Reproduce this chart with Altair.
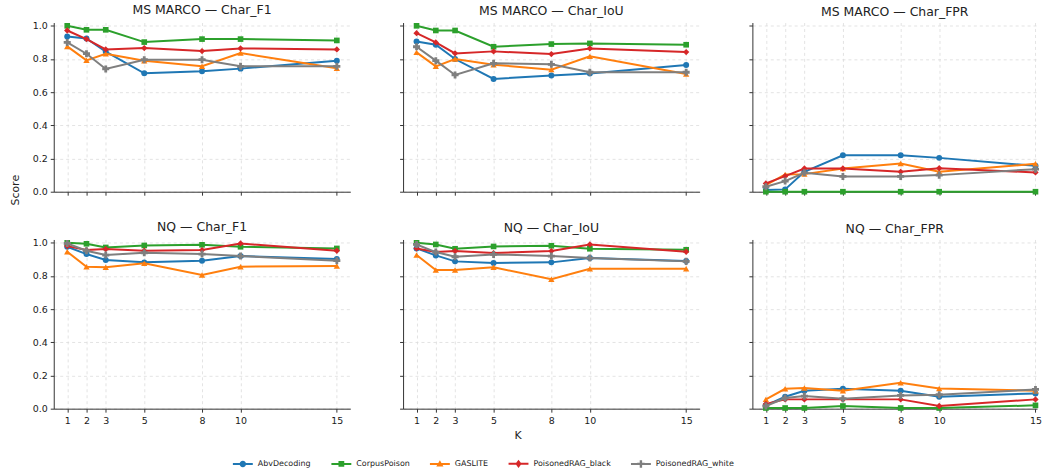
import altair as alt
import pandas as pd

K = [1, 2, 3, 5, 8, 10, 15]
SERIES = ["AbvDecoding", "CorpusPoison", "GASLITE", "PoisonedRAG_black", "PoisonedRAG_white"]
COLORS = ["#1f77b4", "#2ca02c", "#ff7f0e", "#d62728", "#7f7f7f"]
SHAPES = ["circle", "square", "triangle-up", "diamond", "cross"]
SIZES = [36, 32, 40, 40, 50]
Y_TICKS = [0.0, 0.2, 0.4, 0.6, 0.8, 1.0]

msmarco_f1 = {
    "AbvDecoding":       [0.936, 0.924, 0.844, 0.714, 0.726, 0.742, 0.790],
    "CorpusPoison":      [1.000, 0.976, 0.976, 0.902, 0.920, 0.920, 0.912],
    "GASLITE":           [0.876, 0.792, 0.832, 0.790, 0.756, 0.836, 0.744],
    "PoisonedRAG_black": [0.972, 0.920, 0.858, 0.866, 0.848, 0.864, 0.858],
    "PoisonedRAG_white": [0.900, 0.832, 0.740, 0.796, 0.796, 0.756, 0.756],
}
msmarco_iou = {
    "AbvDecoding":       [0.906, 0.886, 0.800, 0.680, 0.700, 0.712, 0.764],
    "CorpusPoison":      [1.000, 0.972, 0.972, 0.874, 0.890, 0.894, 0.886],
    "GASLITE":           [0.840, 0.756, 0.800, 0.766, 0.736, 0.816, 0.710],
    "PoisonedRAG_black": [0.956, 0.900, 0.834, 0.846, 0.830, 0.864, 0.842],
    "PoisonedRAG_white": [0.874, 0.790, 0.704, 0.774, 0.768, 0.720, 0.720],
}
msmarco_fpr = {
    "AbvDecoding":       [0.010, 0.014, 0.120, 0.220, 0.220, 0.204, 0.156],
    "CorpusPoison":      [0.000, 0.000, 0.000, 0.000, 0.000, 0.000, 0.000],
    "GASLITE":           [0.040, 0.104, 0.106, 0.140, 0.170, 0.120, 0.168],
    "PoisonedRAG_black": [0.050, 0.094, 0.140, 0.140, 0.120, 0.142, 0.116],
    "PoisonedRAG_white": [0.030, 0.064, 0.114, 0.092, 0.092, 0.100, 0.136],
}
nq_f1 = {
    "AbvDecoding":       [0.976, 0.932, 0.896, 0.882, 0.892, 0.920, 0.902],
    "CorpusPoison":      [1.000, 0.994, 0.972, 0.984, 0.988, 0.976, 0.966],
    "GASLITE":           [0.946, 0.856, 0.852, 0.876, 0.806, 0.856, 0.860],
    "PoisonedRAG_black": [0.980, 0.956, 0.962, 0.952, 0.956, 0.996, 0.952],
    "PoisonedRAG_white": [0.996, 0.952, 0.926, 0.940, 0.932, 0.920, 0.892],
}
nq_iou = {
    "AbvDecoding":       [0.966, 0.924, 0.888, 0.878, 0.882, 0.908, 0.890],
    "CorpusPoison":      [1.000, 0.990, 0.964, 0.978, 0.982, 0.964, 0.958],
    "GASLITE":           [0.926, 0.836, 0.836, 0.852, 0.780, 0.844, 0.844],
    "PoisonedRAG_black": [0.966, 0.944, 0.950, 0.938, 0.950, 0.990, 0.946],
    "PoisonedRAG_white": [0.990, 0.944, 0.916, 0.930, 0.920, 0.908, 0.888],
}
nq_fpr = {
    "AbvDecoding":       [0.020, 0.072, 0.108, 0.120, 0.108, 0.072, 0.092],
    "CorpusPoison":      [0.004, 0.004, 0.004, 0.016, 0.004, 0.004, 0.020],
    "GASLITE":           [0.056, 0.120, 0.124, 0.108, 0.156, 0.122, 0.108],
    "PoisonedRAG_black": [0.028, 0.056, 0.056, 0.056, 0.056, 0.016, 0.056],
    "PoisonedRAG_white": [0.016, 0.064, 0.076, 0.060, 0.080, 0.084, 0.116],
}

# legend symbols: a short line with the marker on it (custom paths)
BAR = "M-2,-0.2H2V0.2H-2Z "
LEGEND_PATHS = [
    BAR + "M0.65,0A0.65,0.65 0 1,1 -0.65,0A0.65,0.65 0 1,1 0.65,0Z",
    BAR + "M-0.58,-0.58H0.58V0.58H-0.58Z",
    BAR + "M0,-0.75L0.72,0.5H-0.72Z",
    BAR + "M0,-0.82L0.62,0L0,0.82L-0.62,0Z",
    BAR + "M-0.24,-0.75H0.24V-0.24H0.75V0.24H0.24V0.75H-0.24V0.24H-0.75V-0.24H-0.24Z",
]

FONT = "DejaVu Sans"
PW, PH = 298, 170
RIGHT_W = 286


def panel(title, values, row, col, width):
    recs = []
    for s in SERIES:
        for k, v in zip(K, values[s]):
            recs.append({"K": k, "Score": v, "Series": s})
    df = pd.DataFrame(recs)
    xmax = 0.3 + (15.4 * width / PW)
    xaxis_kwargs = dict(values=K, labels=(row == 1), grid=True, labelFlush=False)
    if row == 1 and col == 1:
        x_axis = alt.Axis(title="K", titleX=115, titleY=27, titleBaseline="middle",
                          titleAlign="center", titleFontSize=11, titleFontWeight="normal",
                          titleFont=FONT, titleColor="#222", **xaxis_kwargs)
    else:
        x_axis = alt.Axis(title=None, **xaxis_kwargs)
    if row == 0 and col == 0:
        y_axis = alt.Axis(values=Y_TICKS, format=".1f", labels=True, grid=True,
                          title="Score", titleX=-38, titleY=168, titleAngle=270,
                          titleBaseline="middle", titleAlign="center", titleFontSize=11,
                          titleFontWeight="normal", titleFont=FONT, titleColor="#222")
    else:
        y_axis = alt.Axis(values=Y_TICKS, format=".1f", labels=(col == 0), grid=True, title=None)
    x = alt.X("K:Q", scale=alt.Scale(domain=[0.3, xmax], nice=False, zero=False), axis=x_axis)
    y = alt.Y("Score:Q", scale=alt.Scale(domain=[0, 1.02], nice=False, zero=False), axis=y_axis)
    base = alt.Chart(df)
    layers = []
    for s, c, sh, sz in zip(SERIES, COLORS, SHAPES, SIZES):
        sub = base.transform_filter(alt.datum.Series == s)
        layers.append(sub.mark_line(color=c, strokeWidth=2).encode(x=x, y=y))
        layers.append(sub.mark_point(color=c, shape=sh, filled=True, size=sz, opacity=1).encode(x=x, y=y))
    if row == 1 and col == 1:
        leg_df = pd.DataFrame({"Series": SERIES})
        leg = alt.Legend(orient="none", legendX=185, legendY=438, direction="horizontal",
                         title=None, symbolSize=100, symbolStrokeWidth=0, symbolOpacity=1,
                         labelOffset=10, columnPadding=20, labelFont=FONT, labelFontSize=8,
                         labelColor="#222", padding=0)
        layers.append(alt.Chart(leg_df).mark_point(filled=True, opacity=0).encode(
            color=alt.Color("Series:N", scale=alt.Scale(domain=SERIES, range=COLORS), legend=leg),
            shape=alt.Shape("Series:N", scale=alt.Scale(domain=SERIES, range=LEGEND_PATHS), legend=leg),
        ))
    return alt.layer(*layers).properties(
        width=width, height=PH,
        title=alt.Title(title, fontSize=12.5, font=FONT, fontWeight="normal", color="#222", offset=4),
    )


chart = alt.concat(
    panel("MS MARCO — Char_F1", msmarco_f1, 0, 0, PW),
    panel("MS MARCO — Char_IoU", msmarco_iou, 0, 1, PW),
    panel("MS MARCO — Char_FPR", msmarco_fpr, 0, 2, RIGHT_W),
    panel("NQ — Char_F1", nq_f1, 1, 0, PW),
    panel("NQ — Char_IoU", nq_iou, 1, 1, PW),
    panel("NQ — Char_FPR", nq_fpr, 1, 2, RIGHT_W),
    columns=3, spacing=alt.RowColnumber(row=48, column=53), bounds="flush",
).properties(
    padding={"left": 9, "top": 2.5, "right": 0, "bottom": 0},
    background="white",
).configure_view(stroke="transparent").configure_axis(
    domainColor="#333", tickColor="#333", domainWidth=1, tickWidth=1, tickSize=3.5,
    labelPadding=3, labelFont=FONT, labelFontSize=9.5, labelColor="#1a1a1a",
    gridColor="#dcdcdc", gridDash=[3, 3], gridWidth=0.8,
)

chart.save("out.html", embed_options={"renderer": "svg", "actions": False})
